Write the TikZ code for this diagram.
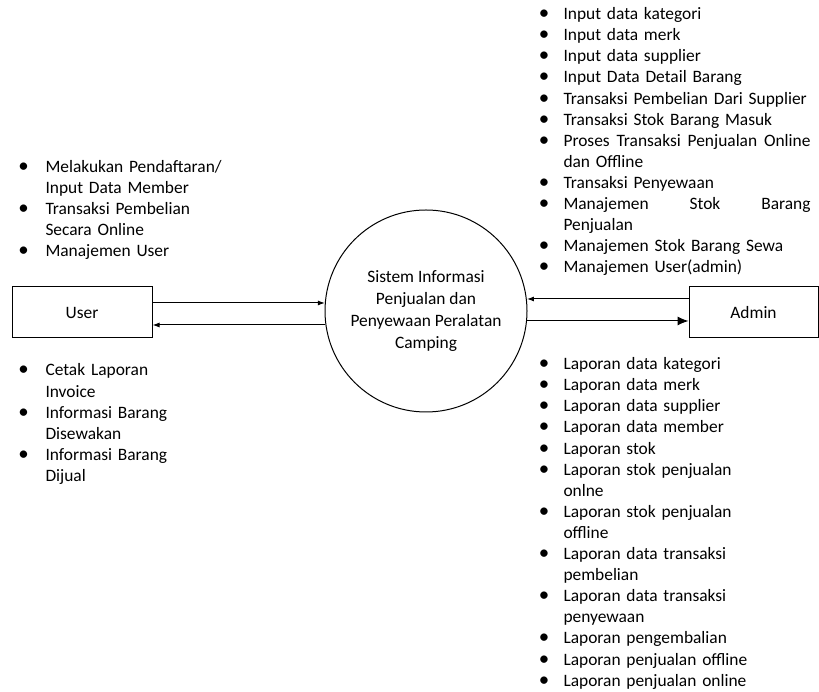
\documentclass[tikz,border=0pt]{standalone}
\usepackage{fontspec}
\setmainfont{Carlito}
\usetikzlibrary{arrows.meta}
\newlength\bgap
\setlength\bgap{16pt}
\newcommand\bl{\leavevmode\llap{\makebox[7pt][c]{\scalebox{1.2}{\textbullet}}\hspace{\bgap}}}
\newcommand\jl[1]{\makebox[247pt][s]{#1}}
\begin{document}
\begin{tikzpicture}[x=1pt,y=1pt,line width=1pt,
  txt/.style={font=\fontsize{17.4}{21.1}\selectfont},
  lst/.style={txt,inner sep=0pt,text width=262pt,align=left,anchor=base west},
  ent/.style={draw,rectangle,inner sep=0pt,txt},
  small/.style={-{Latex[length=7pt,width=5pt]}},
  big/.style={-{Latex[length=11pt,width=9pt]}}]
\useasboundingbox (0,0) rectangle (819,692);
% entities and process
\node[ent,minimum width=140pt,minimum height=51pt] (user) at (82,379.5) {User};
\node[ent,minimum width=129pt,minimum height=51pt] (admin) at (753.5,379.5) {Admin};
\node[circle,draw,minimum size=202pt,inner sep=0pt,align=center,
  font=\fontsize{17.4}{22}\selectfont] (sys) at (426,381)
  {Sistem Informasi\\Penjualan dan\\Penyewaan Peralatan\\Camping};
% flow end points on the boxes
\coordinate (u1) at ([yshift=9.5pt]user.east);
\coordinate (u2) at ([yshift=-12.5pt]user.east);
\coordinate (a1) at ([yshift=13.5pt]admin.west);
\coordinate (a2) at ([yshift=-8.5pt]admin.west);
% flows
\draw[small] (u1) -- (sys.175.5 |- u1);
\draw[small] (sys.188 |- u2) -- (u2);
\draw[small] (a1) -- (sys.6.8 |- a1);
\draw[big] (sys.-5.7 |- a2) -- (a2);
% lists
\setlength\bgap{18.5pt}
\node[lst] (ul) at (45,519.6) {%
\bl Melakukan Pendaftaran/\\
Input Data Member\\
\bl Transaksi Pembelian\\
Secara Online\\
\bl Manajemen User};
\node[lst] (ll) at (45,316) {%
\bl Cetak Laporan\\
Invoice\\
\bl Informasi Barang\\
Disewakan\\
\bl Informasi Barang\\
Dijual};
\setlength\bgap{16pt}
\node[lst] (ur) at (563,672.3) {%
\bl Input data kategori\\
\bl Input data merk\\
\bl Input data supplier\\
\bl Input Data Detail Barang\\
\bl Transaksi Pembelian Dari Supplier\\
\bl Transaksi Stok Barang Masuk\\
\bl \jl{Proses\hfill Transaksi\hfill Penjualan\hfill Online}\\
dan Offline\\
\bl Transaksi Penyewaan\\
\bl \jl{Manajemen\hfill Stok\hfill Barang}\\
Penjualan\\
\bl Manajemen Stok Barang Sewa\\
\bl Manajemen User(admin)};
\node[lst] (lr) at (563,322.3) {%
\bl Laporan data kategori\\
\bl Laporan data merk\\
\bl Laporan data supplier\\
\bl Laporan data member\\
\bl Laporan stok\\
\bl Laporan stok penjualan\\
onlne\\
\bl Laporan stok penjualan\\
offline\\
\bl Laporan data transaksi\\
pembelian\\
\bl Laporan data transaksi\\
penyewaan\\
\bl Laporan pengembalian\\
\bl Laporan penjualan offline\\
\bl Laporan penjualan online};
\end{tikzpicture}
\end{document}
